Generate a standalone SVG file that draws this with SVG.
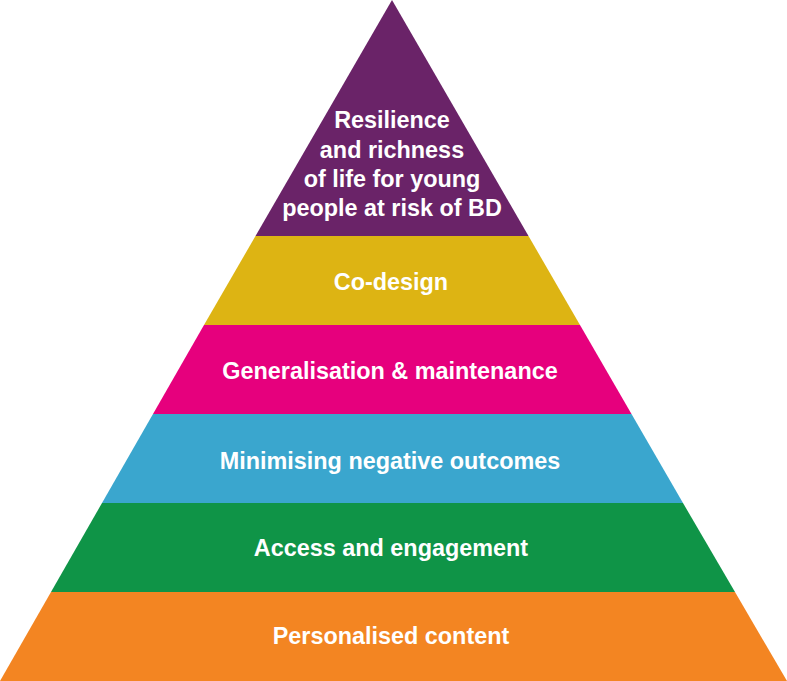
<svg xmlns="http://www.w3.org/2000/svg" width="787" height="681" viewBox="0 0 787 681">
<style>
text{font-family:"Liberation Sans",Arial,sans-serif;font-weight:bold;font-size:23.4px;fill:#fff;text-anchor:middle}
</style>
<rect width="787" height="681" fill="#fff"/>
<g id="tier-top"><polygon points="392,0 255.5,236 528.5,236" fill="#6A2368"/>
<text x="392" y="128">Resilience</text><text x="392" y="158">and richness</text><text x="392" y="187">of life for young</text><text x="392" y="216">people at risk of BD</text></g>
<g id="tier-codesign"><polygon points="255.5,236 528.5,236 580,325 204,325" fill="#DDB413"/><text x="391" y="290">Co-design</text></g>
<g id="tier-general"><polygon points="204,325 580,325 631.5,414 153,414" fill="#E6007D"/><text x="390" y="379">Generalisation &amp; maintenance</text></g>
<g id="tier-minimising"><polygon points="153,414 631.5,414 683,503 102,503" fill="#3AA6CE"/><text x="390" y="469">Minimising negative outcomes</text></g>
<g id="tier-access"><polygon points="102,503 683,503 735,592 51,592" fill="#0F9447"/><text x="391" y="556">Access and engagement</text></g>
<g id="tier-personal"><polygon points="51,592 735,592 787,681 0,681" fill="#F38522"/><text x="391" y="644">Personalised content</text></g>
<g id="connectors"/>
</svg>
